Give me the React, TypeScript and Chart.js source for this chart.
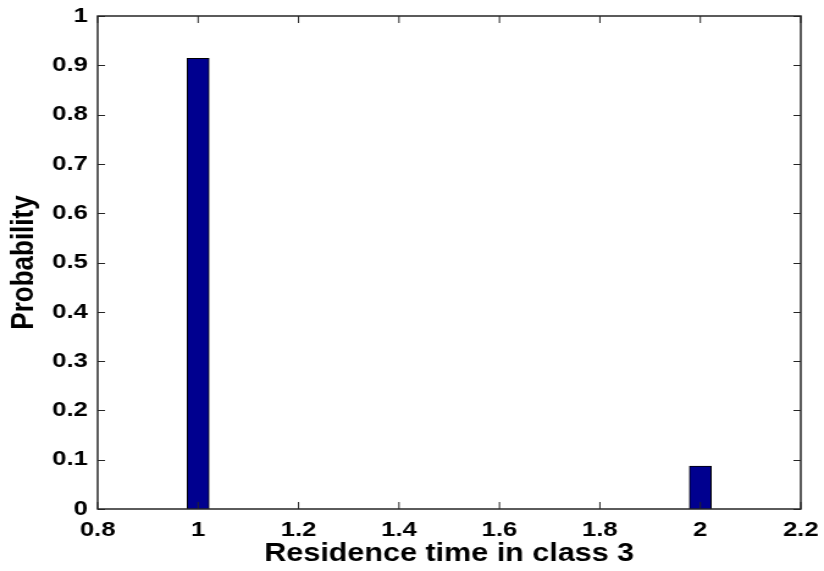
import React, { useEffect, useRef } from "react";
import { Chart, registerables } from "chart.js";

Chart.register(...registerables);

const xValues = [1, 2];
const probabilities = [0.914, 0.087];
const xLabel = "Residence time in class 3";
const yLabel = "Probability";

const FONT = "'Liberation Sans', Arial, Helvetica, sans-serif";

// The reference figure is stretched horizontally; emulate by drawing on a
// narrower canvas and scaling it along x.
const OUT_W = 824;
const OUT_H = 571;
const STRETCH = 1.2207;
const W = Math.round(OUT_W / STRETCH);

const fmt = (v: number) => String(Number(Number(v).toFixed(1)));

const frame = {
  id: "matlabFrame",
  afterDatasetsDraw(chart: any) {
    const { ctx, chartArea } = chart;
    const { left, right, top, bottom } = chartArea;
    const xs = chart.scales.x;
    const ys = chart.scales.y;
    const LV = 7;
    const LH = 6;
    ctx.save();
    ctx.strokeStyle = "#262626";
    ctx.lineWidth = 1;
    ctx.beginPath();
    xs.ticks.forEach((t: any) => {
      const p = xs.getPixelForValue(t.value);
      ctx.moveTo(p, bottom);
      ctx.lineTo(p, bottom - LV);
      ctx.moveTo(p, top);
      ctx.lineTo(p, top + LV);
    });
    ys.ticks.forEach((t: any) => {
      const p = Math.round(ys.getPixelForValue(t.value)) + 0.5;
      ctx.moveTo(left, p);
      ctx.lineTo(left + LH, p);
      ctx.moveTo(right, p);
      ctx.lineTo(right - LH, p);
    });
    ctx.stroke();
    ctx.lineWidth = 1.5;
    ctx.strokeRect(left, top, right - left, bottom - top);
    ctx.restore();
  },
};

export default function App() {
  const ref = useRef<HTMLCanvasElement>(null);
  useEffect(() => {
    if (!ref.current) return;
    const chart = new Chart(ref.current, {
      type: "bar",
      data: {
        datasets: [
          {
            data: xValues.map((x, i) => ({ x, y: probabilities[i] })),
            backgroundColor: "#00008f",
            borderColor: "#000000",
            borderWidth: 1,
            barThickness: 18,
          },
        ],
      },
      options: {
        responsive: false,
        animation: false,
        devicePixelRatio: 1,
        layout: { padding: { top: 16, right: 19, left: 0, bottom: 0 } },
        plugins: { legend: { display: false }, tooltip: { enabled: false } },
        scales: {
          x: {
            type: "linear",
            min: 0.8,
            max: 2.2,
            offset: false,
            border: { display: false },
            grid: { display: false, drawTicks: false },
            ticks: {
              stepSize: 0.2,
              padding: 9,
              color: "#000",
              font: { family: FONT, size: 21, weight: "bold" },
              callback: (v: any) => fmt(v),
              maxRotation: 0,
            },
            title: {
              display: true,
              text: xLabel,
              color: "#000",
              font: { family: FONT, size: 25, weight: "bold" },
              padding: { top: 0, bottom: 2 },
            },
            afterFit: (s: any) => {
              s.height = 62;
              s.paddingRight = 0;
              s.paddingLeft = 0;
            },
          },
          y: {
            min: 0,
            max: 1,
            border: { display: false },
            grid: { display: false, drawTicks: false },
            ticks: {
              stepSize: 0.1,
              padding: 8,
              color: "#000",
              font: { family: FONT, size: 21, weight: "bold" },
              callback: (v: any) => fmt(v),
            },
            title: {
              display: true,
              text: yLabel,
              color: "#000",
              font: { family: FONT, size: 26, weight: "bold" },
              padding: { top: 4, bottom: 0 },
            },
            afterFit: (s: any) => {
              s.width = 80;
              s.paddingTop = 0;
              s.paddingBottom = 0;
            },
          },
        },
      },
      plugins: [frame],
    });
    return () => chart.destroy();
  }, []);
  return (
    <div style={{ position: "absolute", left: 0, top: 0, width: OUT_W, height: OUT_H, background: "#fff", overflow: "hidden" }}>
      <div style={{ width: W, height: OUT_H, transform: `scaleX(${STRETCH})`, transformOrigin: "0 0" }}>
        <canvas ref={ref} width={W} height={OUT_H} style={{ display: "block", width: W, height: OUT_H }} />
      </div>
    </div>
  );
}
